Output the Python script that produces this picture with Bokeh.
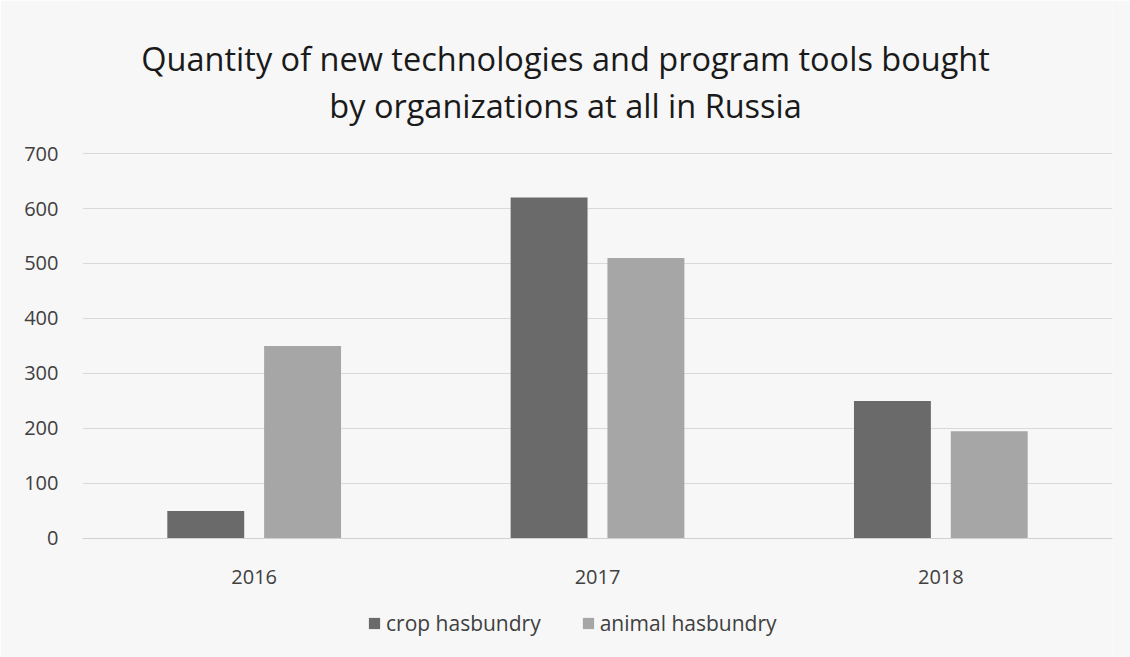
from bokeh.plotting import figure
from bokeh.models import FactorRange, Legend, LegendItem, ColumnDataSource, Label
from bokeh.transform import dodge
from bokeh.embed import file_html
from bokeh.resources import INLINE

years = ["2016", "2017", "2018"]
crop = [50, 620, 250]
animal = [350, 510, 195]
series_names = ["crop hasbundry", "animal hasbundry"]
y_ticks = [0, 100, 200, 300, 400, 500, 600, 700]
title_lines = ["Quantity of new technologies and program tools bought",
               "by organizations at all in Russia"]

src = ColumnDataSource(data=dict(years=years, crop=crop, animal=animal))

FONT = "Open Sans"
BG = "#f7f7f7"

# frame spans the full window height; value 0 sits 538 px from the top (0.55 px per unit)
p = figure(x_range=FactorRange(factors=years), y_range=(-216.4, 978.2),
           frame_width=1030, frame_height=657,
           min_border_left=82, min_border_right=18, min_border_top=0, min_border_bottom=0,
           output_backend="svg", toolbar_location=None, title=None)

p.background_fill_color = BG
p.border_fill_color = BG
p.outline_line_color = None

for txt, yy in zip(title_lines, [872.7, 787.3]):
    p.add_layout(Label(x=1.407, y=yy, text=txt, text_align="center", text_baseline="middle",
                       text_font=FONT, text_font_size="32.5px", text_color="#1a1a1a"))

r1 = p.vbar(x=dodge("years", -0.141, range=p.x_range), top="crop", width=0.224,
            source=src, fill_color="#6a6a6a", line_color=None)
r2 = p.vbar(x=dodge("years", 0.141, range=p.x_range), top="animal", width=0.224,
            source=src, fill_color="#a6a6a6", line_color=None)

p.yaxis.ticker = y_ticks
p.yaxis.axis_line_color = None
p.yaxis.major_tick_line_color = None
p.yaxis.minor_tick_line_color = None
p.yaxis.major_label_text_font = FONT
p.yaxis.major_label_text_font_size = "20px"
p.yaxis.major_label_text_color = "#404040"
p.yaxis.major_label_standoff = 18

p.xaxis.fixed_location = 0
p.xaxis.axis_line_color = "#d0d0d0"
p.xaxis.major_tick_line_color = None
p.xaxis.minor_tick_line_color = None
p.xaxis.major_label_text_font = FONT
p.xaxis.major_label_text_font_size = "20px"
p.xaxis.major_label_text_color = "#404040"
p.xaxis.major_label_standoff = 26

p.xgrid.grid_line_color = None
p.ygrid.grid_line_color = "#d9d9d9"
p.ygrid.grid_line_width = 1

legend = Legend(items=[LegendItem(label=series_names[0], renderers=[r1]),
                       LegendItem(label=series_names[1], renderers=[r2])],
                orientation="horizontal", location=(285, 20))
legend.background_fill_alpha = 0
legend.border_line_color = None
legend.label_text_font = FONT
legend.label_text_font_size = "21px"
legend.label_text_color = "#404040"
legend.glyph_width = 14
legend.glyph_height = 14
legend.spacing = 40
legend.label_standoff = 5
legend.margin = 0
legend.padding = 2
p.add_layout(legend)

open("out.html", "w").write(file_html(p, INLINE))
